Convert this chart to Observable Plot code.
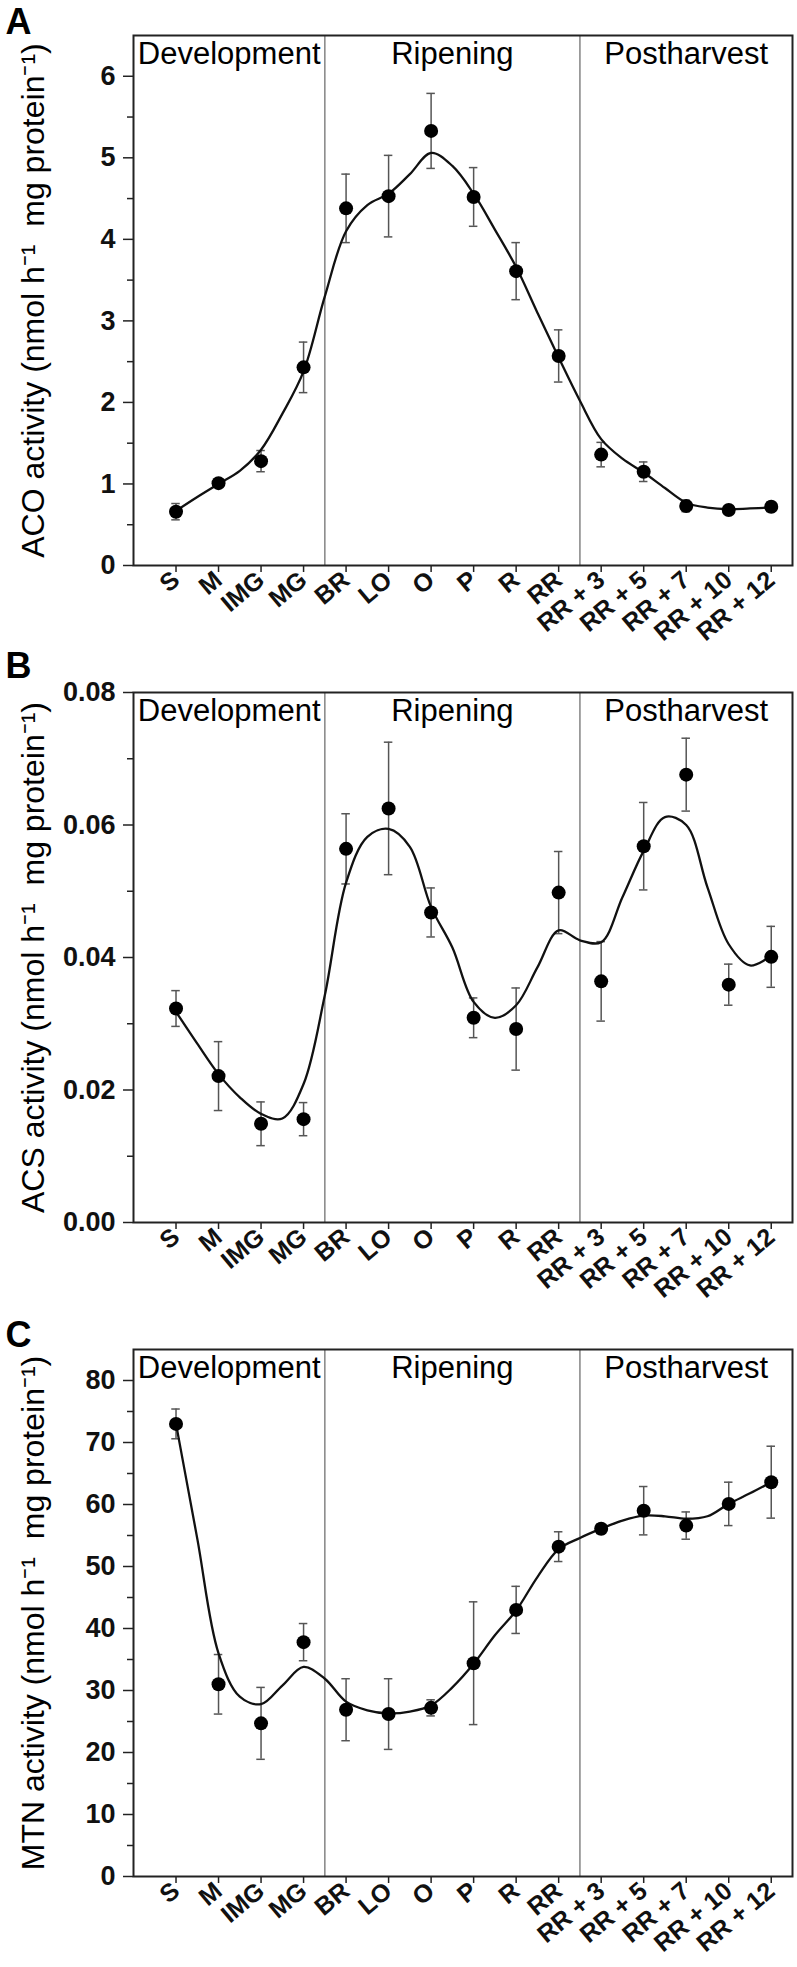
<!DOCTYPE html>
<html><head><meta charset="utf-8">
<script src="https://cdn.jsdelivr.net/npm/d3@7"></script>
<script src="https://cdn.jsdelivr.net/npm/@observablehq/plot@0.6"></script>
<style>
body{margin:0;background:#fff;}
#chart svg{display:block;}
#chart [aria-label$="tick label"] text{font-weight:bold;}
</style></head><body><div id="chart"></div>
<script>
// Stages (x categories)
const categories = ["S","M","IMG","MG","BR","LO","O","P","R","RR","RR + 3","RR + 5","RR + 7","RR + 10","RR + 12"];
const phaseNames = ["Development","Ripening","Postharvest"];
const phaseBounds = [-1, 3.5, 9.5, 14.5];

// Panel A: ACO activity
const acoMean = [0.66, 1.01, 1.28, 2.43, 4.38, 4.53, 5.33, 4.52, 3.61, 2.57, 1.36, 1.15, 0.73, 0.68, 0.72];
const acoErr  = [0.10, 0.05, 0.13, 0.31, 0.42, 0.50, 0.46, 0.36, 0.35, 0.32, 0.15, 0.12, 0.07, 0.03, 0.06];
// fitted curve read at every half stage (0, 0.5, 1, ... 14)
const acoFit  = [0.67, 0.84, 1.00, 1.16, 1.42, 1.86, 2.38, 3.30, 4.10, 4.42, 4.56, 4.80, 5.06, 4.90, 4.56,
                 4.12, 3.66, 3.10, 2.55, 2.02, 1.55, 1.31, 1.14, 0.95, 0.77, 0.71, 0.69, 0.70, 0.71];
const acoTicks = [0, 1, 2, 3, 4, 5, 6];
const acoMinor = [0.5, 1.5, 2.5, 3.5, 4.5, 5.5];

// Panel B: ACS activity
const acsMean = [0.0323, 0.0221, 0.0149, 0.0156, 0.0564, 0.0625, 0.0468, 0.0309, 0.0292, 0.0498, 0.0364, 0.0568, 0.0676, 0.0359, 0.0401];
const acsErr  = [0.0027, 0.0052, 0.0033, 0.0025, 0.0053, 0.0100, 0.0037, 0.0030, 0.0062, 0.0062, 0.0060, 0.0066, 0.0055, 0.0031, 0.0046];
const acsFit  = [0.0318, 0.0270, 0.0224, 0.0189, 0.0164, 0.0157, 0.0209, 0.0343, 0.0513, 0.0582, 0.0594, 0.0567, 0.0476, 0.0415, 0.0333,
                 0.0309, 0.0328, 0.0385, 0.0441, 0.0426, 0.0423, 0.0491, 0.0561, 0.0612, 0.0600, 0.0506, 0.0420, 0.0388, 0.0403];
const acsTicks = [0, 0.02, 0.04, 0.06, 0.08];
const acsMinor = [0.01, 0.03, 0.05, 0.07];

// Panel C: MTN activity
const mtnMean = [73.0, 31.0, 24.7, 37.8, 26.9, 26.2, 27.2, 34.4, 43.0, 53.2, 56.1, 59.0, 56.6, 60.1, 63.6];
const mtnErr  = [2.4, 4.8, 5.8, 3.0, 5.0, 5.7, 1.3, 9.9, 3.8, 2.4, 0.8, 3.9, 2.2, 3.5, 5.8];
const mtnFit  = [73.0, 54.5, 36.0, 29.0, 27.8, 30.8, 33.8, 31.9, 28.2, 26.8, 26.3, 26.6, 27.6, 30.5, 34.3,
                 38.9, 42.9, 48.3, 52.8, 54.6, 56.1, 57.4, 58.2, 58.1, 57.7, 58.1, 60.1, 61.8, 63.6];
const mtnTicks = [0, 10, 20, 30, 40, 50, 60, 70, 80];
const mtnMinor = [5, 15, 25, 35, 45, 55, 65, 75];

const FONT = "'Liberation Sans', Arial, Helvetica, sans-serif";

function panel(o) {
  const pts = o.mean.map((v, i) => ({x: i, y: v, e: o.err[i]}));
  const fit = o.fit.map((v, i) => ({x: i / 2, y: v}));
  const phases = phaseNames.map((n, i) => ({name: n, mid: (phaseBounds[i] + phaseBounds[i + 1]) / 2}));
  const seps = phaseBounds.slice(1, -1);
  const cap = 0.1;
  return Plot.plot({
    width: 797, height: o.height,
    marginLeft: 133, marginRight: 5, marginTop: o.marginTop, marginBottom: o.marginBottom,
    style: {fontFamily: FONT, color: "#111", background: "#fff", overflow: "visible"},
    x: {domain: [-1, 14.5], axis: null},
    y: {domain: o.domain, axis: null},
    marks: [
      Plot.ruleX(seps, {stroke: "#8c8c8c", strokeWidth: 1.6}),
      Plot.axisY(o.minor, {tickSize: 6, tickFormat: () => "", label: null, stroke: "#222", strokeWidth: 1.5}),
      Plot.axisY(o.ticks, {tickSize: 10, tickPadding: 8, tickFormat: o.format, fontSize: 27, fontWeight: "bold", label: null, stroke: "#222", strokeWidth: 1.5}),
      Plot.axisX(d3.range(categories.length), {tickSize: 7, tickPadding: 4, tickFormat: i => categories[i], tickRotate: -40, fontSize: 25, fontWeight: "bold", label: null, stroke: "#222", strokeWidth: 1.5}),
      Plot.ruleX(pts, {x: "x", y1: d => d.y - d.e, y2: d => d.y + d.e, stroke: "#555", strokeWidth: 1.5}),
      Plot.ruleY(pts, {y: d => d.y + d.e, x1: d => d.x - cap, x2: d => d.x + cap, stroke: "#555", strokeWidth: 1.5}),
      Plot.ruleY(pts, {y: d => d.y - d.e, x1: d => d.x - cap, x2: d => d.x + cap, stroke: "#555", strokeWidth: 1.5}),
      Plot.line(fit, {x: "x", y: "y", curve: "catmull-rom", stroke: "#111", strokeWidth: 2.3}),
      Plot.dot(pts, {x: "x", y: "y", r: 7, fill: "#000", stroke: "none"}),
      Plot.frame({stroke: "#222", strokeWidth: 2}),
      Plot.text(phases, {x: "mid", text: "name", frameAnchor: "top", lineAnchor: "top", dy: 6, fontSize: 31, fill: "#000"}),
      Plot.text([o.label], {frameAnchor: "left", dx: -100, rotate: -90, textAnchor: "middle", fontSize: 32, fill: "#000"}),
      Plot.text([o.letter], {frameAnchor: "top-left", dx: -128, dy: o.letterDy, textAnchor: "start", fontSize: 36, fontWeight: "bold", fill: "#000"})
    ]
  });
}

const chart = document.getElementById("chart");
chart.append(panel({
  letter: "A", label: "ACO activity (nmol h\u207B\u00B9  mg protein\u207B\u00B9)",
  mean: acoMean, err: acoErr, fit: acoFit, domain: [0, 6.5], ticks: acoTicks, minor: acoMinor,
  format: d3.format("d"), height: 655, marginTop: 35, marginBottom: 90, letterDy: -27
}));
chart.append(panel({
  letter: "B", label: "ACS activity (nmol h\u207B\u00B9  mg protein\u207B\u00B9)",
  mean: acsMean, err: acsErr, fit: acsFit, domain: [0, 0.08], ticks: acsTicks, minor: acsMinor,
  format: d3.format(".2f"), height: 657, marginTop: 37, marginBottom: 90, letterDy: -40
}));
chart.append(panel({
  letter: "C", label: "MTN activity (nmol h\u207B\u00B9  mg protein\u207B\u00B9)",
  mean: mtnMean, err: mtnErr, fit: mtnFit, domain: [0, 85], ticks: mtnTicks, minor: mtnMinor,
  format: d3.format("d"), height: 655, marginTop: 37, marginBottom: 91, letterDy: -28
}));
</script></body></html>
